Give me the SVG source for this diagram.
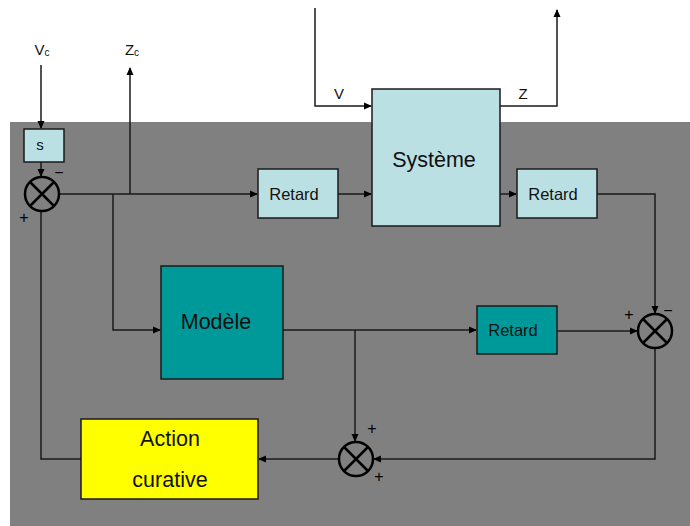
<svg xmlns="http://www.w3.org/2000/svg" width="690" height="526" viewBox="0 0 690 526">
<defs>
<marker id="ah" markerWidth="8" markerHeight="8" refX="7" refY="4" orient="auto" markerUnits="userSpaceOnUse">
<path d="M0,0.5 L8,4 L0,7.5 Z" fill="#000"/>
</marker>
<style>
.ln{fill:none;stroke:#1a1a1a;stroke-width:1.5}
.bx{stroke:#1a1a1a;stroke-width:1.5}
.lb{fill:#bbe0e3}
.tl{fill:#009999}
.t{font-family:"Liberation Sans",Arial,sans-serif;fill:#111;text-anchor:middle}
.sm{fill:none;stroke:#000;stroke-width:2.5}
.sg{font-family:"Liberation Sans",Arial,sans-serif;font-size:16px;fill:#000;text-anchor:middle}
</style>
</defs>
<rect width="690" height="526" fill="#fff"/>
<rect x="10" y="122" width="680" height="404" fill="#808080"/>
<g id="connectors">
<path class="ln" d="M41,65 V128" marker-end="url(#ah)"/>
<path class="ln" d="M41,162 V176" marker-end="url(#ah)"/>
<path class="ln" d="M59,194 H257" marker-end="url(#ah)"/>
<path class="ln" d="M130,194 V68" marker-end="url(#ah)"/>
<path class="ln" d="M113,194 V330 H160" marker-end="url(#ah)"/>
<path class="ln" d="M338,194 H371" marker-end="url(#ah)"/>
<path class="ln" d="M315,8 V106 H371" marker-end="url(#ah)"/>
<path class="ln" d="M500,106 H557 V10" marker-end="url(#ah)"/>
<path class="ln" d="M500,194 H516" marker-end="url(#ah)"/>
<path class="ln" d="M597,194 H655 V313" marker-end="url(#ah)"/>
<path class="ln" d="M283,330 H476" marker-end="url(#ah)"/>
<path class="ln" d="M557,331 H637" marker-end="url(#ah)"/>
<path class="ln" d="M355,330 V441" marker-end="url(#ah)"/>
<path class="ln" d="M655,349 V459 H374" marker-end="url(#ah)"/>
<path class="ln" d="M339,459 H259" marker-end="url(#ah)"/>
<path class="ln" d="M81,459 H41 V212"/>
</g>
<g id="labels">
<text class="t" x="42" y="55" font-size="15">V<tspan font-size="10" dy="1">c</tspan></text>
<text class="t" x="132" y="55" font-size="15">Z<tspan font-size="10" dy="1">c</tspan></text>
<text class="t" x="339" y="99" font-size="15">V</text>
<text class="t" x="523" y="99" font-size="15">Z</text>
</g>
<g id="s">
<rect class="bx lb" x="24" y="129" width="40" height="33"/>
<text class="t" x="40" y="150" font-size="15">s</text>
</g>
<g id="sum1">
<circle class="sm" cx="42" cy="194" r="17"/>
<path class="sm" d="M30,182 L54,206 M54,182 L30,206"/>
<text class="sg" x="59" y="178">−</text>
<text class="sg" x="24" y="223">+</text>
</g>
<g id="retard1">
<rect class="bx lb" x="258" y="169" width="80" height="49"/>
<text class="t" x="294" y="200" font-size="16.5">Retard</text>
</g>
<g id="systeme">
<rect class="bx lb" x="372" y="89" width="128" height="137"/>
<text class="t" x="434" y="167" font-size="21.5">Système</text>
</g>
<g id="retard2">
<rect class="bx lb" x="517" y="169" width="80" height="49"/>
<text class="t" x="553" y="200" font-size="16.5">Retard</text>
</g>
<g id="modele">
<rect class="bx tl" x="161" y="266" width="122" height="113"/>
<text class="t" x="216" y="329" font-size="21.5">Modèle</text>
</g>
<g id="retard3">
<rect class="bx tl" x="477" y="306" width="80" height="48"/>
<text class="t" x="513" y="336" font-size="16.5">Retard</text>
</g>
<g id="sum2">
<circle class="sm" cx="655" cy="331" r="17"/>
<path class="sm" d="M643,319 L667,343 M667,319 L643,343"/>
<text class="sg" x="629" y="320">+</text>
<text class="sg" x="668" y="316">−</text>
</g>
<g id="sum3">
<circle class="sm" cx="356" cy="459" r="17"/>
<path class="sm" d="M344,447 L368,471 M368,447 L344,471"/>
<text class="sg" x="372" y="434">+</text>
<text class="sg" x="379" y="482">+</text>
</g>
<g id="action">
<rect class="bx" x="81" y="419" width="177" height="80" fill="#ffff00"/>
<text class="t" x="170" y="446" font-size="21.5">Action</text>
<text class="t" x="170" y="487" font-size="21.5">curative</text>
</g>
</svg>
